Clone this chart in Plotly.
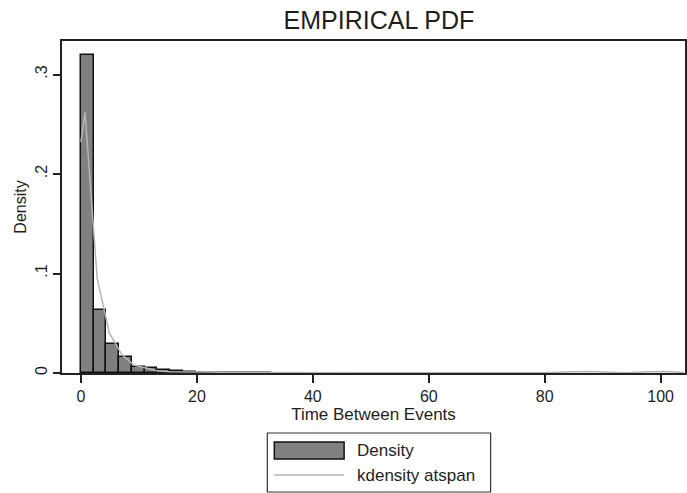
import plotly.graph_objects as go

# ---- data ----
bin_start = 0.0
bin_width = 2.2
hist_density = [0.320, 0.063, 0.0287, 0.0165, 0.0065, 0.005, 0.003, 0.0016,
                0.001, 0.0005, 0.0003, 0.0003, 0.0002, 0.0002, 0.0001]

kd_x = [0.0, 0.7, 2.8, 4.9, 7.0, 9.1, 11.2, 13.3, 15.4, 17.5, 19.6, 21.7,
        25.0, 30.0, 40.0, 50.0, 60.0, 70.0, 80.0, 85.0, 88.0, 91.0, 94.0,
        98.0, 101.0, 104.0]
kd_y = [0.232, 0.262, 0.095, 0.040, 0.019, 0.008, 0.005, 0.002, 0.0012,
        0.0012, 0.0015, 0.001, 0.0006, 0.0004, 0.0003, 0.0002, 0.0002,
        0.0002, 0.0003, 0.0012, 0.0015, 0.0008, 0.0003, 0.0012, 0.0015, 0.0005]

x_ticks = [0, 20, 40, 60, 80, 100]
y_ticks = [0, 0.1, 0.2, 0.3]
y_tick_labels = ["0", ".1", ".2", ".3"]

title_text = "EMPIRICAL PDF"
x_title = "Time Between Events"
y_title = "Density"
legend_labels = ["Density", "kdensity atspan"]

# ---- figure ----
bin_centers = [bin_start + (i + 0.5) * bin_width for i in range(len(hist_density))]

FONT = "Liberation Sans, Arial, sans-serif"
TXT = "#1e1e1e"
AX = "#222222"
BAR_FILL = "#808080"
KD_COLOR = "#b4b4b4"

fig = go.Figure()
fig.add_trace(go.Bar(
    x=bin_centers, y=hist_density, width=bin_width,
    marker=dict(color=BAR_FILL, line=dict(color="#111111", width=1.5)),
    name=legend_labels[0], showlegend=False,
))
fig.add_trace(go.Scatter(
    x=kd_x, y=kd_y, mode="lines",
    line=dict(color=KD_COLOR, width=1.5),
    name=legend_labels[1], showlegend=False,
))

W, H = 687, 493
L, R, T, B = 62, 0, 41, 120
pw, ph = W - L - R, H - T - B


def px(xp):
    return (xp - L) / pw


def py(yp):
    return (H - B - yp) / ph


fig.update_layout(
    width=W, height=H,
    margin=dict(l=L, r=R, t=T, b=B),
    paper_bgcolor="white", plot_bgcolor="white",
    font=dict(family=FONT, size=16, color=TXT),
    bargap=0,
    title=dict(text=title_text, x=px(380), xref="paper", xanchor="center",
               y=1 - 20 / H, yanchor="middle",
               font=dict(size=25, color=TXT, family=FONT)),
    xaxis=dict(
        range=[-3.27, 104.2], tickmode="array", tickvals=x_ticks,
        ticks="outside", ticklen=8, tickwidth=1.8, tickcolor=AX,
        showline=True, linecolor=AX, linewidth=1.8, mirror=True,
        showgrid=False, zeroline=False,
        tickfont=dict(size=16, color=TXT),
        title=dict(text=x_title, font=dict(size=17, color=TXT), standoff=3),
    ),
    yaxis=dict(
        range=[0, 0.3337], tickmode="array", tickvals=y_ticks,
        ticktext=y_tick_labels, tickangle=-90,
        ticks="outside", ticklen=7, tickwidth=1.8, tickcolor=AX,
        showline=True, linecolor=AX, linewidth=1.8, mirror=True,
        showgrid=False, zeroline=False,
        tickfont=dict(size=16, color=TXT),
        title=dict(text=y_title, font=dict(size=16, color=TXT), standoff=2),
    ),
)

# ---- legend drawn manually (Stata style wide swatches) ----
fig.add_shape(type="rect", xref="paper", yref="paper",
              x0=px(268), x1=px(492), y0=py(433), y1=py(492),
              line=dict(color="#333333", width=1.2), fillcolor="white")
fig.add_shape(type="rect", xref="paper", yref="paper",
              x0=px(275), x1=px(345), y0=py(442), y1=py(459),
              line=dict(color="#111111", width=1.5), fillcolor=BAR_FILL)
fig.add_shape(type="line", xref="paper", yref="paper",
              x0=px(275), x1=px(345), y0=py(475), y1=py(475),
              line=dict(color=KD_COLOR, width=1.5))
fig.add_annotation(text=legend_labels[0], xref="paper", yref="paper",
                   x=px(356), y=py(450), xanchor="left", yanchor="middle",
                   showarrow=False, font=dict(size=17, color=TXT))
fig.add_annotation(text=legend_labels[1], xref="paper", yref="paper",
                   x=px(356), y=py(475), xanchor="left", yanchor="middle",
                   showarrow=False, font=dict(size=17, color=TXT))

fig.write_html("out.html")
